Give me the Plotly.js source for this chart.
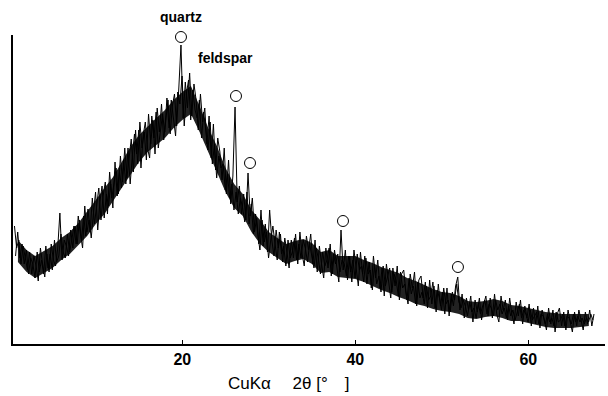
<!DOCTYPE html>
<html>
<head>
<meta charset="utf-8">
<script src="https://cdn.plot.ly/plotly-3.0.1.min.js"></script>
<style>html,body{margin:0;padding:0;background:#fff;}#chart{width:608px;height:396px;}</style>
</head>
<body>
<div id="chart"></div>
<script>
// XRD pattern read in two interleaved passes (arbitrary intensity units)
// pass A: 2theta from 0.6 deg, step 0.25 deg
const twoThetaStartA = 0.6;
const twoThetaStep = 0.25;
const intensityA = [
  118, 96, 104, 80,   98, 84, 74, 92,    70, 88, 78, 63,    96, 80, 67, 90,
  72, 100, 84, 78,    96, 131, 84, 104,  98, 88, 114, 96,   118, 100, 124, 104,
  128, 108, 135, 112, 146, 120, 138, 156, 124, 148, 162, 130, 172, 146, 160, 176,
  150, 188, 162, 196, 166, 184, 205, 172, 214, 180, 222, 196, 212, 184, 230, 200,
  224, 190, 236, 212, 240, 204, 226, 244, 210, 238, 250, 218, 256, 299, 226, 262,
  236, 271, 228, 260, 244, 214, 250, 222, 236, 200, 228, 186, 220, 174, 206, 192,
  164, 196, 150, 184, 140, 168, 237, 142, 158, 130, 150, 124, 171, 128, 146, 112,
  126, 100, 134, 98,  120, 92, 134, 104,  88, 114, 96, 110,  82, 106, 92, 76,
  104, 86, 110, 80,   112, 90, 78, 108,   94, 110, 80, 104,  72, 98, 80, 66,
  96, 76, 100, 70,    94, 76, 62, 114,    74, 94, 64, 88,    62, 94, 76, 58,
  92, 70, 88, 60,     82, 56, 88, 66,     84, 56, 76, 48,    80, 62, 46, 76,
  58, 78, 44, 70,     74, 52, 40, 70,     56, 72, 38, 64,    68, 46, 62, 36,
  64, 40, 58, 32,     60, 38, 52, 30,     56, 28, 50, 38,    58, 67, 34, 50,
  26, 46, 34, 48,     22, 44, 32, 46,     24, 40, 48, 28,    46, 26, 50, 30,
  22, 48, 34, 44,     24, 46, 30, 20,     42, 28, 44, 20,    38, 26, 40, 18,
  36, 20, 38, 16,     34, 24, 14, 36,     20, 34, 12, 30,    36, 18, 32, 14,
  34, 22, 12, 32,     18, 34, 24, 14,     32, 20, 34, 18,    30
];
// pass B: 2theta from 0.725 deg, step 0.25 deg
const twoThetaStartB = 0.725;
const intensityB = [
  88, 112, 86, 100,   80, 94, 70, 86,    80, 66, 92, 72,    84, 70, 98, 76,
  90, 74, 104, 82,    88, 110, 92, 86,   110, 92, 104, 118, 100, 128, 110, 96,
  138, 112, 124, 106, 130, 152, 114, 142, 158, 126, 150, 138, 160, 136, 182, 148,
  174, 156, 184, 160, 196, 160, 188, 210, 190, 214, 176, 208, 222, 196, 186, 228,
  206, 232, 196, 216, 230, 212, 246, 216, 244, 226, 208, 252, 240, 268, 218, 250,
  264, 224, 254, 234, 226, 244, 206, 232, 212, 194, 222, 180, 200, 166, 188, 176,
  180, 154, 170, 146, 160, 134, 152, 130, 146, 136, 122, 152, 120, 140, 110, 130,
  110, 94, 124, 102,  112, 86, 104, 118, 100, 84, 112, 90,   98, 78, 104, 86,
  92, 106, 84, 100,   86, 104, 96, 82,   100, 86, 76, 96,   86, 70, 92, 78,
  84, 96, 68, 90,     80, 90, 72, 84,    80, 68, 88, 72,    84, 66, 90, 74,
  78, 62, 86, 70,     74, 54, 80, 60,    68, 52, 78, 58,    66, 76, 52, 70,
  64, 48, 72, 56,     60, 44, 66, 50,    58, 40, 62, 46,    52, 40, 58, 44,
  48, 62, 36, 54,     46, 34, 56, 40,    44, 32, 52, 44,    60, 42, 36, 44,
  38, 28, 42, 32,     36, 26, 40, 30,    38, 44, 30, 40,    36, 28, 44, 34,
  40, 30, 36, 26,     38, 28, 34, 24,    32, 40, 26, 34,    30, 22, 34, 24,
  28, 32, 20, 30,     28, 20, 30, 22,    26, 18, 32, 22,    24, 30, 18, 28,
  26, 20, 30, 22,     28, 22, 26, 20,    26, 22, 30, 24
];
// dense dark core of the noise band, 2theta from 1 deg, step 1 deg
const coreStart = 1;
const coreStep = 1;
const coreUpper = [
  104, 94, 88, 93, 98, 106, 112, 121, 132, 144, 156, 167, 182, 197, 209, 218,
  226, 234, 244, 252, 258, 238, 216, 198, 176, 160, 150, 134, 124, 112, 106, 100,
  103, 105, 101, 92, 94, 88, 88, 88, 84, 81, 77, 74, 71, 66, 63, 59,
  55, 52, 51, 48, 43, 42, 43, 45, 43, 39, 38, 36, 34, 32, 31, 30,
  30, 30, 30
];
const coreLower = [
  82, 72, 66, 71, 76, 84, 90, 99, 108, 120, 130, 143, 156, 170, 182, 192,
  199, 206, 216, 224, 230, 212, 192, 172, 152, 136, 128, 112, 100, 92, 86, 80,
  83, 85, 80, 71, 72, 67, 66, 65, 62, 58, 54, 51, 47, 44, 40, 38,
  35, 33, 32, 30, 26, 25, 27, 28, 26, 23, 23, 21, 19, 17, 16, 16,
  16, 17, 18
];
// marked reflections (open circles)
const peakTheta = [19.85, 26.21, 27.83, 38.58, 51.87];
const peakMark  = [307, 248, 181, 123, 77];
const peakLabels = ["quartz", "feldspar"];
const tickVals = [20, 40, 60];
const tickText = ["20", "40", "60"];

const traces = [
  {
    type: 'scatter', mode: 'lines',
    x0: coreStart, dx: coreStep, y: coreLower,
    line: {color: '#000', width: 0}, hoverinfo: 'skip'
  },
  {
    type: 'scatter', mode: 'lines',
    x0: coreStart, dx: coreStep, y: coreUpper,
    line: {color: '#000', width: 0}, fill: 'tonexty', fillcolor: '#222',
    hoverinfo: 'skip'
  },
  {
    type: 'scatter', mode: 'lines',
    x0: twoThetaStartB, dx: twoThetaStep, y: intensityB,
    line: {color: '#000', width: 1}, hoverinfo: 'skip'
  },
  {
    type: 'scatter', mode: 'lines',
    x0: twoThetaStartA, dx: twoThetaStep, y: intensityA,
    line: {color: '#000', width: 1}, hoverinfo: 'skip'
  },
  {
    type: 'scatter', mode: 'markers',
    x: peakTheta, y: peakMark,
    marker: {symbol: 'circle-open', size: 11, color: '#000', line: {width: 1, color: '#000'}},
    cliponaxis: false, hoverinfo: 'skip'
  }
];

const layout = {
  width: 608, height: 396,
  margin: {l: 13, r: 3, t: 35, b: 52},
  paper_bgcolor: '#fff', plot_bgcolor: '#fff',
  showlegend: false,
  font: {family: 'Liberation Sans, Arial, sans-serif', color: '#000', size: 14},
  xaxis: {
    range: [0.43, 68.87],
    tickvals: tickVals, ticktext: tickText,
    ticks: 'inside', ticklen: 4, tickcolor: '#000', tickwidth: 1,
    showline: true, linecolor: '#000', linewidth: 2,
    showgrid: false, zeroline: false,
    tickfont: {size: 16, weight: 'bold', family: 'Liberation Sans, Arial, sans-serif', color: '#000'}
  },
  yaxis: {
    range: [0, 309],
    showline: true, linecolor: '#000', linewidth: 2,
    showticklabels: false, ticks: '', showgrid: false, zeroline: false
  },
  annotations: [
    {xref: 'paper', yref: 'paper', x: 0.466, y: -0.128, xanchor: 'center', yanchor: 'middle',
     text: 'CuK\u03b1\u2003 2\u03b8 [\u00b0\u2003]', showarrow: false,
     font: {size: 17, family: 'Liberation Sans, Arial, sans-serif', color: '#000'}},
    {xref: 'x', yref: 'paper', x: 19.85, y: (344 - 17) / 309, xanchor: 'center', yanchor: 'middle',
     text: peakLabels[0], showarrow: false,
     font: {size: 14, weight: 'bold', color: '#000'}},
    {xref: 'x', yref: 'y', x: 21.6, y: 286, xanchor: 'left', yanchor: 'middle',
     text: peakLabels[1], showarrow: false,
     font: {size: 14, weight: 'bold', color: '#000'}}
  ]
};

Plotly.newPlot('chart', traces, layout, {staticPlot: true, displayModeBar: false});
</script>
</body>
</html>
